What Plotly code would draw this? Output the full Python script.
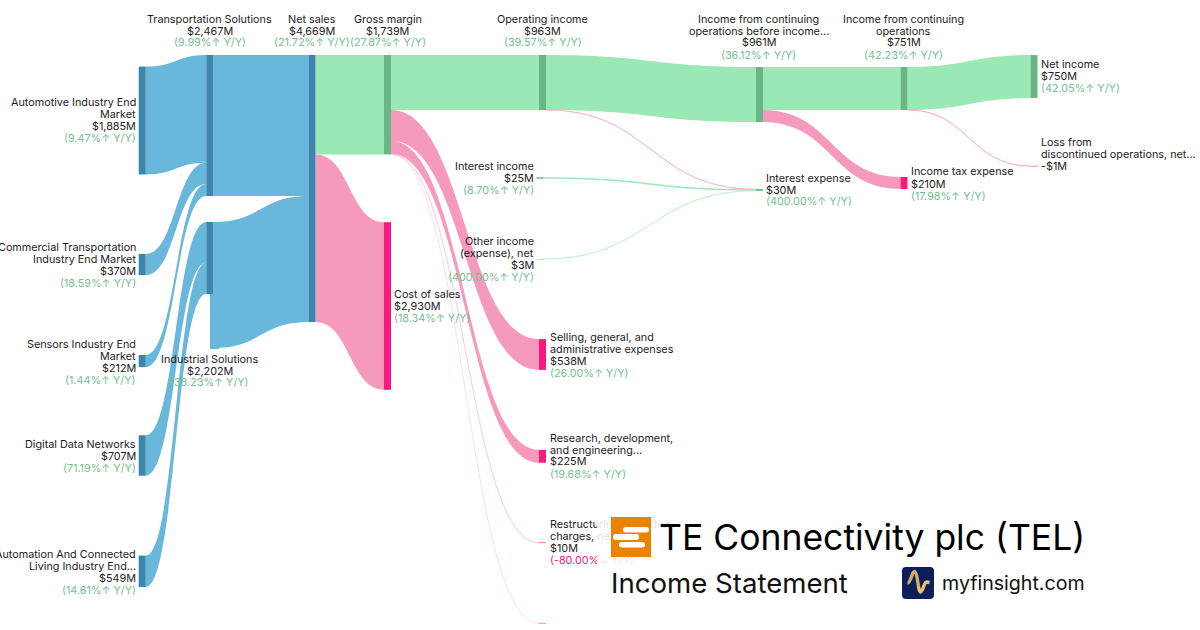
import plotly.graph_objects as go

W, H = 1200, 630
FONT = "Inter"
INK, UP, DOWN = "#1c1c1c", "#74bf8f", "#f7197e"
BLUE_NODE, BLUE_LINK = "#3a86ad", "#6ab7dc"
GREEN_NODE, GREEN_LINK = "#69b584", "#9ae8b3"
PINK_NODE, PINK_LINK = "#f91a7f", "#f59abd"

# ---------- data ----------
node_names = ["Automotive Industry End Market", "Commercial Transportation Industry End Market",
              "Sensors Industry End Market", "Digital Data Networks",
              "Automation And Connected Living Industry End Market", "Transportation Solutions",
              "Industrial Solutions", "Net sales", "Gross margin", "Cost of sales", "Operating income",
              "Selling, general, and administrative expenses", "Research, development, and engineering",
              "Restructuring and other charges, net", "Other", "Interest income", "Other income (expense), net",
              "Income from continuing operations before income", "Interest expense",
              "Income from continuing operations", "Income tax expense", "Net income",
              "Loss from discontinued operations, net"]
link_source = [0, 1, 2, 3, 4, 5, 6, 7, 7, 8, 8, 8, 8, 8, 10, 10, 15, 16, 17, 17, 19, 19]
link_target = [5, 5, 5, 6, 6, 7, 7, 8, 9, 10, 11, 12, 13, 14, 17, 18, 18, 18, 19, 20, 21, 22]
link_value = [1885, 370, 212, 707, 549, 2467, 2202, 1739, 2930, 963, 538, 225, 10, 3, 961, 2, 25, 3, 751, 210, 750, 1]
link_kind = ["b", "b", "b", "b", "b", "b", "b", "g", "p", "g", "p", "p", "p", "p", "g", "p", "g", "g", "g", "p", "g", "p"]
node_kind = ["b", "b", "b", "b", "b", "b", "b", "b", "g", "p", "g", "p", "p", "p", "p", "g", "g", "g", "g", "g", "p", "g", "p"]

# node centres in pixels (layout only)
node_cx = [142.2, 142.2, 142.2, 142.2, 142.2, 209.8, 209.8, 312, 387.5, 387.5, 542.5, 542.5, 542.5, 542.5, 542.5,
           540, 540, 759.5, 759.5, 904, 904, 1034, 1034]
node_cy = [120.5, 264.5, 361, 455.5, 571.3, 125.5, 285, 188.5, 104.7, 306, 82.5, 354.5, 456.3, 542.8, 623, 178, 259,
           94.5, 190, 88.5, 183, 76.5, 166]

# ---------- labels: (x, first-line y, anchor, lines) ----------
labels = [
    (138, 102.6, "right", ["Automotive Industry End", "Market", "$1,885M", "(9.47%↑ Y/Y)"]),
    (138, 247.6, "right", ["Commercial Transportation", "Industry End Market", "$370M", "(18.59%↑ Y/Y)"]),
    (138, 344.6, "right", ["Sensors Industry End", "Market", "$212M", "(1.44%↑ Y/Y)"]),
    (138, 444.4, "right", ["Digital Data Networks", "$707M", "(71.19%↑ Y/Y)"]),
    (138, 554.4, "right", ["Automation And Connected", "Living Industry End...", "$549M", "(14.61%↑ Y/Y)"]),
    (209.5, 19, "center", ["Transportation Solutions", "$2,467M", "(9.99%↑ Y/Y)"]),
    (209.5, 359, "center", ["Industrial Solutions", "$2,202M", "(38.23%↑ Y/Y)"]),
    (311.5, 19, "center", ["Net sales", "$4,669M", "(21.72%↑ Y/Y)"]),
    (387.5, 19, "center", ["Gross margin", "$1,739M", "(27.87%↑ Y/Y)"]),
    (392, 294, "left", ["Cost of sales", "$2,930M", "(18.34%↑ Y/Y)"]),
    (542.5, 19, "center", ["Operating income", "$963M", "(39.57%↑ Y/Y)"]),
    (536, 166.6, "right", ["Interest income", "$25M", "(8.70%↑ Y/Y)"]),
    (536, 241.4, "right", ["Other income", "(expense), net", "$3M", "(400.00%↑ Y/Y)"]),
    (548, 337, "left", ["Selling, general, and", "administrative expenses", "$538M", "(26.00%↑ Y/Y)"]),
    (548, 438, "left", ["Research, development,", "and engineering...", "$225M", "(19.68%↑ Y/Y)"]),
    (758.5, 19, "center", ["Income from continuing", "operations before income...", "$961M", "(36.12%↑ Y/Y)"]),
    (764, 178, "left", ["Interest expense", "$30M", "(400.00%↑ Y/Y)"]),
    (903.5, 19, "center", ["Income from continuing", "operations", "$751M", "(42.23%↑ Y/Y)"]),
    (909, 172, "left", ["Income tax expense", "$210M", "(17.98%↑ Y/Y)"]),
    (1039, 64.6, "left", ["Net income", "$750M", "(42.05%↑ Y/Y)"]),
    (1039, 142.6, "left", ["Loss from", "discontinued operations, net...", "-$1M"]),
]
under_panel_label = (550, 525.4, ["Restructuring and other", "charges, net", "$10M", "(-80.00%↓ Y/Y)"])

node_palette = {"b": BLUE_NODE, "g": GREEN_NODE, "p": PINK_NODE}
link_palette = {"b": BLUE_LINK, "g": GREEN_LINK, "p": PINK_LINK}
thin_alpha = {1: 0.55, 2: 0.5, 3: 0.4, 10: 0.28, 25: 1.0}


def link_color(kind, value):
    c = link_palette[kind]
    a = thin_alpha.get(value, 1.0)
    if kind == "p" and value == 3:
        a = 0.18
    r, g, b = int(c[1:3], 16), int(c[3:5], 16), int(c[5:7], 16)
    return f"rgba({r},{g},{b},{a})"


SCALE_HEIGHT = 268.7  # sankey domain height in px; sets px-per-$M (last column total 4697)

fig = go.Figure()

fig.add_trace(go.Sankey(
    arrangement="fixed",
    domain=dict(x=[0, 1], y=[1 - SCALE_HEIGHT / H, 1]),
    node=dict(label=[""] * len(node_names), customdata=node_names, pad=0, thickness=7,
              x=[v / W for v in node_cx], y=[v / SCALE_HEIGHT for v in node_cy],
              color=[node_palette[k] for k in node_kind], line=dict(width=0),
              hovertemplate="%{customdata}<extra></extra>"),
    link=dict(source=link_source, target=link_target, value=link_value,
              color=[link_color(k, v) for k, v in zip(link_kind, link_value)],
              line=dict(width=0)),
))

# text under the translucent panel sits in the cartesian layer
ux, uy, ulines = under_panel_label
for i, t in enumerate(ulines):
    fig.add_trace(go.Scatter(x=[ux], y=[uy + i * 12], mode="text", text=[t], textposition="middle right",
                             textfont=dict(family=FONT, size=10.8, color=DOWN if "%" in t else INK),
                             hoverinfo="skip", showlegend=False))

ann = []


def text(x, y, s, size=10.8, color=INK, anchor="left"):
    ann.append(dict(xref="paper", yref="paper", x=x / W, y=1 - y / H, text=s, showarrow=False,
                    xanchor=anchor, yanchor="middle", font=dict(family=FONT, size=size, color=color)))


def block(x0, y0, x1, y1, color):
    ann.append(dict(xref="paper", yref="paper", x=x0 / W, y=1 - y0 / H, text=" ", showarrow=False,
                    xanchor="left", yanchor="top", width=x1 - x0, height=y1 - y0, bgcolor=color,
                    borderpad=0, borderwidth=0, font=dict(size=1)))


# Industrial Solutions node is only dark along its incoming part
block(205, 294, 210, 348.5, "#ffffff")
block(209.5, 294, 218, 348.5, BLUE_LINK)

for x, y, anchor, lines in labels:
    for i, t in enumerate(lines):
        text(x, y + i * 12, t, color=UP if "%" in t else INK, anchor=anchor)

text(656.5, 537, "TE Connectivity plc (TEL)", size=35.5, color="#000000")
text(609, 583, "Income Statement", size=27.6, color="#111111")
text(940, 583, "myfinsight.com", size=19.6, color="#111111")


def rr(x0, y0, x1, y1, r):
    return (f"M{x0+r},{y0} L{x1-r},{y0} Q{x1},{y0} {x1},{y0+r} L{x1},{y1-r} Q{x1},{y1} {x1-r},{y1} "
            f"L{x0+r},{y1} Q{x0},{y1} {x0},{y1-r} L{x0},{y0+r} Q{x0},{y0} {x0+r},{y0} Z")


shapes = [
    dict(type="rect", x0=597, x1=1100, y0=505, y1=610, fillcolor="rgba(255,255,255,0.86)", line_width=0, layer="above"),
    dict(type="rect", x0=611, x1=651, y0=517, y1=557, fillcolor="#e98300", line_width=0, layer="above"),
    dict(type="path", path=rr(623, 527, 649, 532.5, 2.7), fillcolor="#ffffff", line_width=0, layer="above"),
    dict(type="path", path=rr(613, 534, 639, 540, 2.7), fillcolor="#ffffff", line_width=0, layer="above"),
    dict(type="path", path=rr(619, 542, 645, 547.5, 2.7), fillcolor="#ffffff", line_width=0, layer="above"),
    dict(type="path", path=rr(902, 567, 934, 599, 4), fillcolor="#0a1f5c", line_width=0, layer="above"),
    dict(type="path", path="M907.5,583 C911,583 912,571 914.5,571.5 C917,572 917.5,582 918.5,586",
         line=dict(color="#dca868", width=3.4), layer="above"),
    dict(type="path", path="M918.5,586 C919,590 920,592 920.5,592 C923,592 924,582 926.5,582 L929.5,582.5",
         line=dict(color="#f0c267", width=3.4), layer="above"),
]

fig.update_layout(
    width=W, height=H, margin=dict(l=0, r=0, t=0, b=0), paper_bgcolor="#ffffff", plot_bgcolor="rgba(0,0,0,0)",
    showlegend=False, annotations=ann, shapes=shapes,
    xaxis=dict(range=[0, W], visible=False, fixedrange=True),
    yaxis=dict(range=[H, 0], visible=False, fixedrange=True),
    font=dict(family=FONT),
)
fig.write_html("out.html", config={"displayModeBar": False},
               post_script="document.body.style.margin='0';document.body.style.overflow='hidden';")
